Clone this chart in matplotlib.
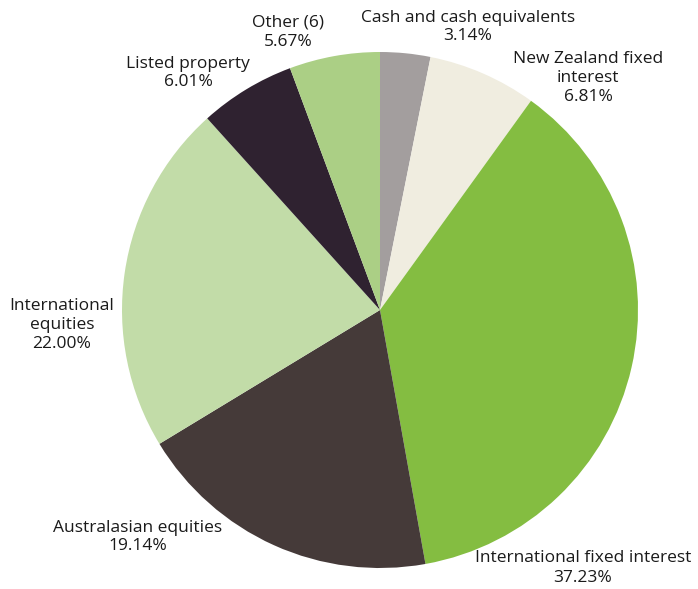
import matplotlib.pyplot as plt

labels = ["Cash and cash equivalents", "New Zealand fixed\ninterest",
          "International fixed interest", "Australasian equities",
          "International\nequities", "Listed property", "Other (6)"]
values = [3.14, 6.81, 37.23, 19.14, 22.00, 6.01, 5.67]
colors = ["#a39e9e", "#f0ede0", "#84bd41", "#453a39", "#c2dca8", "#2f2230", "#abcf85"]

# label centres in pixels of the original image
label_px = [(468, 27), (588, 78), (583, 568), (138, 537), (62, 325), (188, 73), (288, 32)]

W, H = 698, 589
cx, cy, r = 380, 310, 258

plt.rcParams['font.family'] = ['Open Sans', 'DejaVu Sans']
fig = plt.figure(figsize=(W / 100, H / 100), dpi=100)
ax = fig.add_axes([(cx - r) / W, (H - cy - r) / H, 2 * r / W, 2 * r / H])
ax.pie(values, colors=colors, startangle=90, counterclock=False, radius=1,
       wedgeprops=dict(linewidth=0))
ax.set_xlim(-1, 1)
ax.set_ylim(-1, 1)
ax.set_aspect('equal')
ax.axis('off')

for lab, v, (px, py) in zip(labels, values, label_px):
    fig.text(px / W, 1 - py / H, f"{lab}\n{v:.2f}%", ha='center', va='center',
             fontsize=12.5, color='#1a1a1a', linespacing=1.25)

fig.savefig("out.png", dpi=100)
